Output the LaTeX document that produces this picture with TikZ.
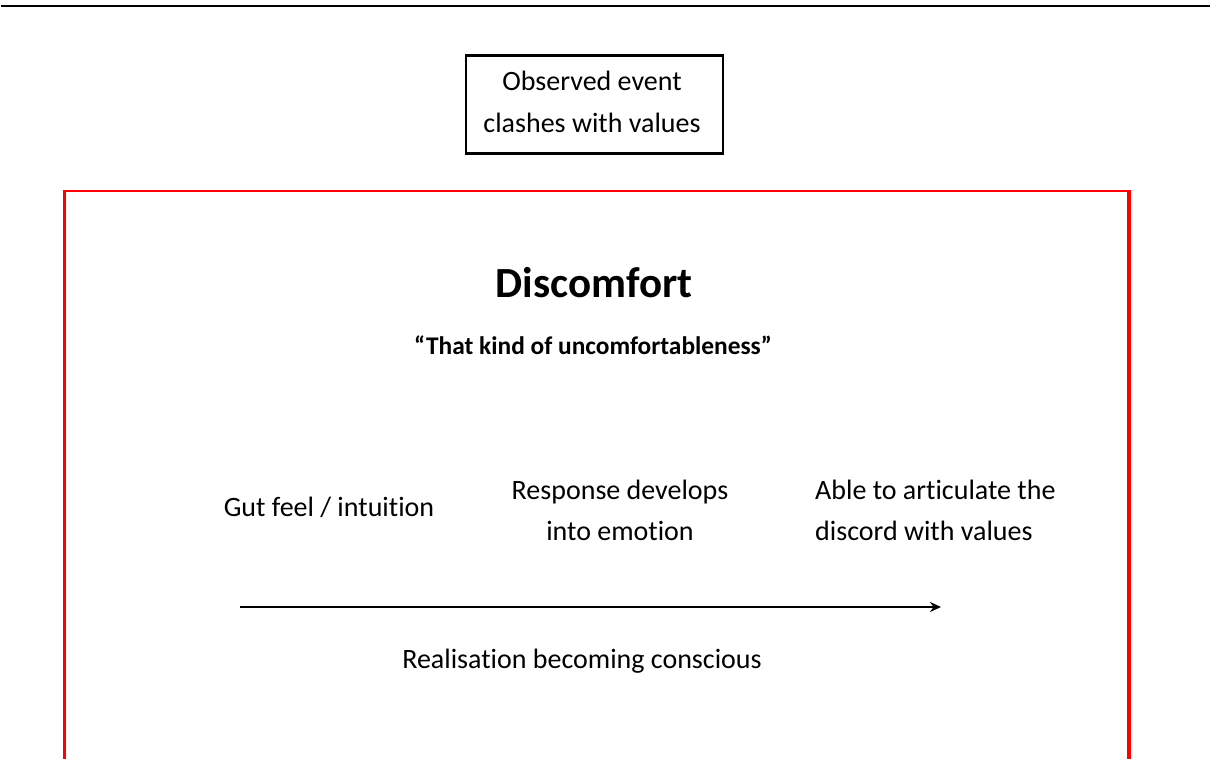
\documentclass[tikz,border=0pt]{standalone}
\usepackage{fontspec}
\setmainfont{Carlito}[Ligatures=NoCommon]
\usetikzlibrary{arrows.meta}
\tikzset{
  label text/.style={font=\fontsize{28}{41.5}\selectfont, inner sep=0pt, align=center},
  event box/.style={draw=black, line width=2.2pt, minimum width=257pt, minimum height=98pt, inner sep=0pt, align=center, font=\fontsize{28}{42}\selectfont},
  frame side/.style={draw=red, line width=3.5pt},
  frame top/.style={draw=red, line width=2.2pt},
  timeline/.style={line width=2pt, -{Stealth[length=11pt,width=10pt]}}
}
\newcommand{\boxline}[1]{\raisebox{5pt}{#1}\hspace*{5pt}}
\begin{document}
\begin{tikzpicture}[x=1pt,y=-1pt]
  \useasboundingbox (0,0) rectangle (1212,758);
  \clip (0,0) rectangle (1212,758);
  % page rule
  \draw[line width=2pt] (1,5.8) -- (1210,5.8);
  % trigger
  \node[event box] (event) at (594.5,104.5) {\boxline{Observed event}\\\boxline{clashes with values}};
  % framed region
  \draw[frame side] (64.5,190) -- (64.5,770);
  \draw[frame side] (1129.2,190) -- (1129.2,770);
  \draw[frame top] (63,190.6) -- (1131,190.6);
  % heading
  \node[inner sep=0pt, font=\fontsize{43}{48}\selectfont\bfseries] (title) at (594,283) {Discomfort};
  \node[inner sep=0pt, font=\fontsize{25.4}{30}\selectfont\bfseries] (quote) at (593,345) {“That kind of uncomfortableness”};
  % stages
  \node[label text] (gut) at (329,507) {Gut feel / intuition};
  \node[label text] (resp) at (620,510.5) {Response develops\\into emotion};
  \node[label text, align=left, anchor=west] (able) at (815,510.5) {Able to articulate the\\discord with values};
  % progression
  \coordinate (start) at (240,607);
  \coordinate (end) at (941,607);
  \draw[timeline] (start) -- (end);
  \node[label text] (real) at (582,661) {Realisation becoming conscious};
\end{tikzpicture}
\end{document}
